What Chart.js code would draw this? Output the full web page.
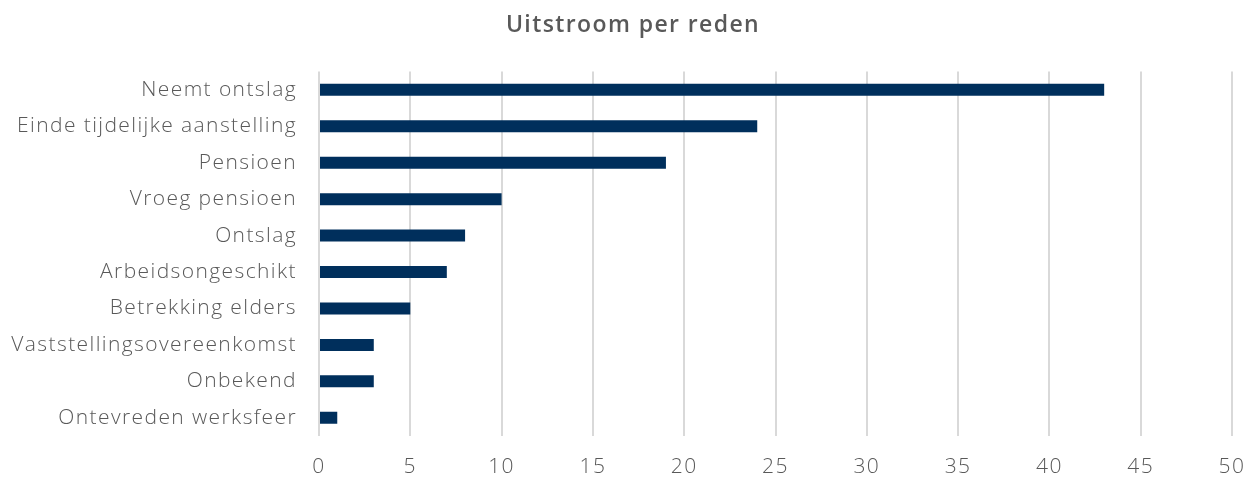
<!DOCTYPE html>
<html>
<head>
<meta charset="utf-8">
<script src="https://cdn.jsdelivr.net/npm/chart.js@4"></script>
<style>
  html, body { margin: 0; padding: 0; background: #ffffff; }
  #wrap { width: 1255px; height: 479px; }
</style>
</head>
<body>
<div id="wrap"><canvas id="chart" width="1255" height="479"></canvas></div>
<script>
// categories, top to bottom
var reasons = [
    'Neemt ontslag',
    'Einde tijdelijke aanstelling',
    'Pensioen',
    'Vroeg pensioen',
    'Ontslag',
    'Arbeidsongeschikt',
    'Betrekking elders',
    'Vaststellingsovereenkomst',
    'Onbekend',
    'Ontevreden werksfeer'
];
var counts = [43, 24, 19, 10, 8, 7, 5, 3, 3, 1];

var xMin = 0;
var xMax = 50;
var xStep = 5;

var labelColor = '#595959';
var tickFont = { family: '"Open Sans", sans-serif', size: 21, weight: 300, lineHeight: 1.2 };

// the source font is wide, so open the letters up a little
var wideText = {
    id: 'wideText',
    beforeUpdate: function (chart) { chart.ctx.letterSpacing = '1.4px'; },
    beforeDraw: function (chart) { chart.ctx.letterSpacing = '1.4px'; }
};

// title sits centred over the labels + plot, not the whole canvas
var titleShift = {
    id: 'titleShift',
    afterLayout: function (chart) { chart.titleBlock.left += 34; }
};

new Chart(document.getElementById('chart'), {
    type: 'bar',
    data: {
        labels: reasons,
        datasets: [{
            data: counts,
            backgroundColor: '#002F5C',
            categoryPercentage: 1.0,
            barPercentage: 0.33
        }]
    },
    options: {
        indexAxis: 'y',
        responsive: false,
        animation: false,
        layout: { padding: { top: 4, right: 23, bottom: 0, left: 0 } },
        plugins: {
            legend: { display: false },
            tooltip: { enabled: false },
            title: {
                display: true,
                text: 'Uitstroom per reden',
                color: labelColor,
                font: { family: '"Open Sans", sans-serif', size: 23, weight: 600 },
                padding: { top: 8, bottom: 32 }
            }
        },
        scales: {
            x: {
                min: xMin,
                max: xMax,
                afterFit: function (scale) {
                    scale.height = 43;
                    scale.paddingRight = 0;
                    scale.paddingLeft = 0;
                },
                ticks: {
                    stepSize: xStep,
                    color: labelColor,
                    font: tickFont,
                    padding: 18
                },
                grid: { color: '#d9d9d9', lineWidth: 2, drawTicks: false },
                border: { display: false }
            },
            y: {
                afterFit: function (scale) { scale.width = 319; },
                ticks: {
                    color: labelColor,
                    font: { family: '"Open Sans", sans-serif', size: 21, weight: 300, lineHeight: 0.5 },
                    padding: 22
                },
                grid: { display: false, drawTicks: false },
                border: { display: false }
            }
        }
    },
    plugins: [wideText, titleShift]
});
</script>
</body>
</html>
